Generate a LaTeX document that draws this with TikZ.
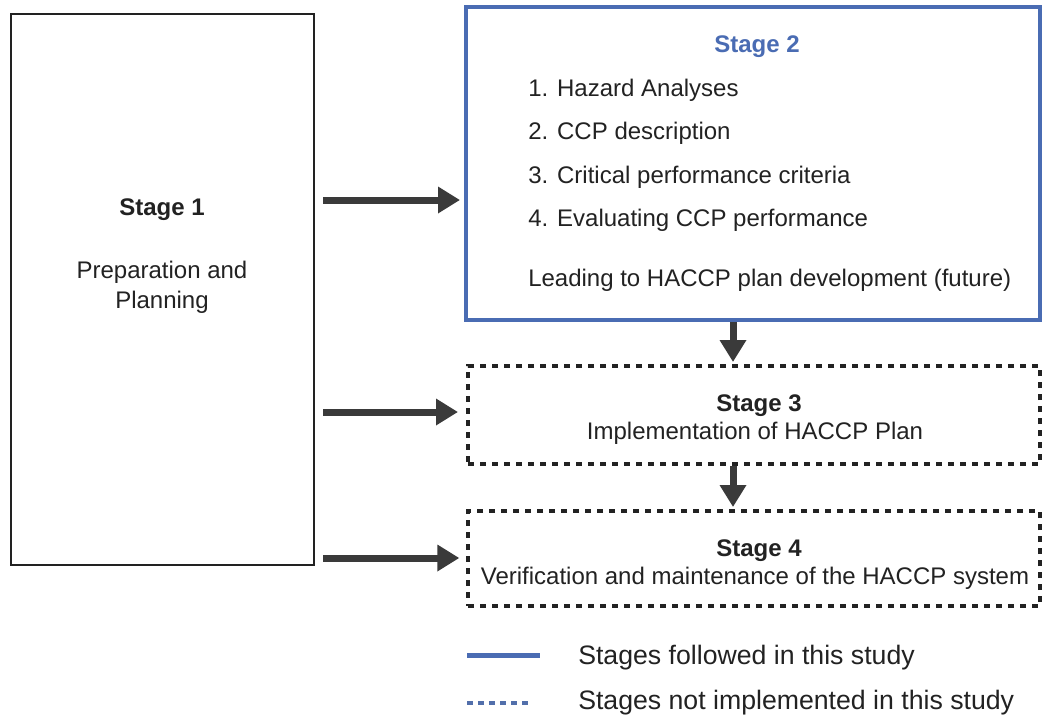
\documentclass[tikz,border=0pt]{standalone}
\usepackage{fontspec}
\setmainfont{Liberation Sans}
\usetikzlibrary{arrows.meta}
\definecolor{stblue}{HTML}{4A6CB3}
\definecolor{ink}{HTML}{222222}
\definecolor{arrowgray}{HTML}{3A3A3A}
\tikzset{
  txt/.style={inner sep=0pt, text=ink, font=\fontsize{18pt}{22pt}\selectfont},
  boldtxt/.style={txt, font=\fontsize{18pt}{22pt}\selectfont\bfseries},
  legtxt/.style={inner sep=0pt, text=ink, font=\fontsize{20pt}{24pt}\selectfont, anchor=base west},
  stageone/.style={draw=ink, line width=1.5pt, inner sep=0pt},
  stagetwo/.style={draw=stblue, line width=3pt, inner sep=0pt},
  stagedot/.style={draw=ink, line width=3pt, inner sep=0pt, dash pattern=on 4.5pt off 4.5pt},
  bigarrow/.style={draw=arrowgray, line width=5.25pt, -{Triangle[length=16.5pt,width=19pt]}},
}
\begin{document}
\begin{tikzpicture}[x=0.75pt, y=-0.75pt]
\useasboundingbox (0,0) rectangle (1043,715);
\fill[white] (0,0) rectangle (1043,715);

% boxes
\node[stageone, minimum width=227.25pt, minimum height=413.25pt] (s1) at (162.5,289.5) {};
\node[stagetwo, minimum width=430.5pt, minimum height=234.75pt] (s2) at (753,163.5) {};
\node[stagedot, minimum width=429pt, minimum height=73.5pt] (s3) at (754,415) {};
\node[stagedot, minimum width=429pt, minimum height=71.25pt] (s4) at (754,558.5) {};

% stage 1 text
\node[boldtxt, anchor=base] (s1t) at (162,215.5) {Stage 1};
\node[txt, anchor=base] (s1a) at (162,278.5) {Preparation and};
\node[txt, anchor=base] (s1b) at (162,308.5) {Planning};

% stage 2 text
\node[boldtxt, anchor=base, text=stblue] (s2t) at (757,52.5) {Stage 2};
\node[txt, anchor=base west] (i1) at (528,96.5) {1. Hazard Analyses};
\node[txt, anchor=base west] (i2) at (528,139.5) {2. CCP description};
\node[txt, anchor=base west] (i3) at (528,183.5) {3. Critical performance criteria};
\node[txt, anchor=base west] (i4) at (528,226.5) {4. Evaluating CCP performance};
\node[txt, anchor=base west] (i5) at (528,286.5) {Leading to HACCP plan development (future)};

% stage 3 and 4 text
\node[boldtxt, anchor=base] (s3t) at (759,411.5) {Stage 3};
\node[txt, anchor=base] (s3a) at (755,439.5) {Implementation of HACCP Plan};
\node[boldtxt, anchor=base] (s4t) at (759,556.5) {Stage 4};
\node[txt, anchor=base] (s4a) at (755,584.5) {Verification and maintenance of the HACCP system};

% horizontal arrows
\draw[bigarrow, shorten <=6pt, shorten >=3pt] (s1.east |- 0,200) -- (s2.west |- 0,200);
\draw[bigarrow, shorten <=6pt, shorten >=6pt] (s1.east |- 0,412) -- (s3.west |- 0,412);
\draw[bigarrow, shorten <=6pt, shorten >=5pt] (s1.east |- 0,558) -- (s4.west |- 0,558);

% vertical arrows
\draw[bigarrow, shorten >=1.5pt] (s2.south -| 733,0) -- (s3.north -| 733,0);
\draw[bigarrow, shorten >=1.5pt] (s3.south -| 733,0) -- (s4.north -| 733,0);

% legend
\coordinate (la) at (467,655);
\coordinate (lb) at (540,655);
\coordinate (lc) at (467,703);
\coordinate (ld) at (533,703);
\draw[stblue, line width=3.75pt] (la) -- (lb);
\draw[stblue!85!gray, line width=3pt, dash pattern=on 4.5pt off 3.75pt] (lc) -- (ld);
\node[legtxt] (lt1) at (578,664.5) {Stages followed in this study};
\node[legtxt] (lt2) at (578,709.5) {Stages not implemented in this study};
\end{tikzpicture}
\end{document}
